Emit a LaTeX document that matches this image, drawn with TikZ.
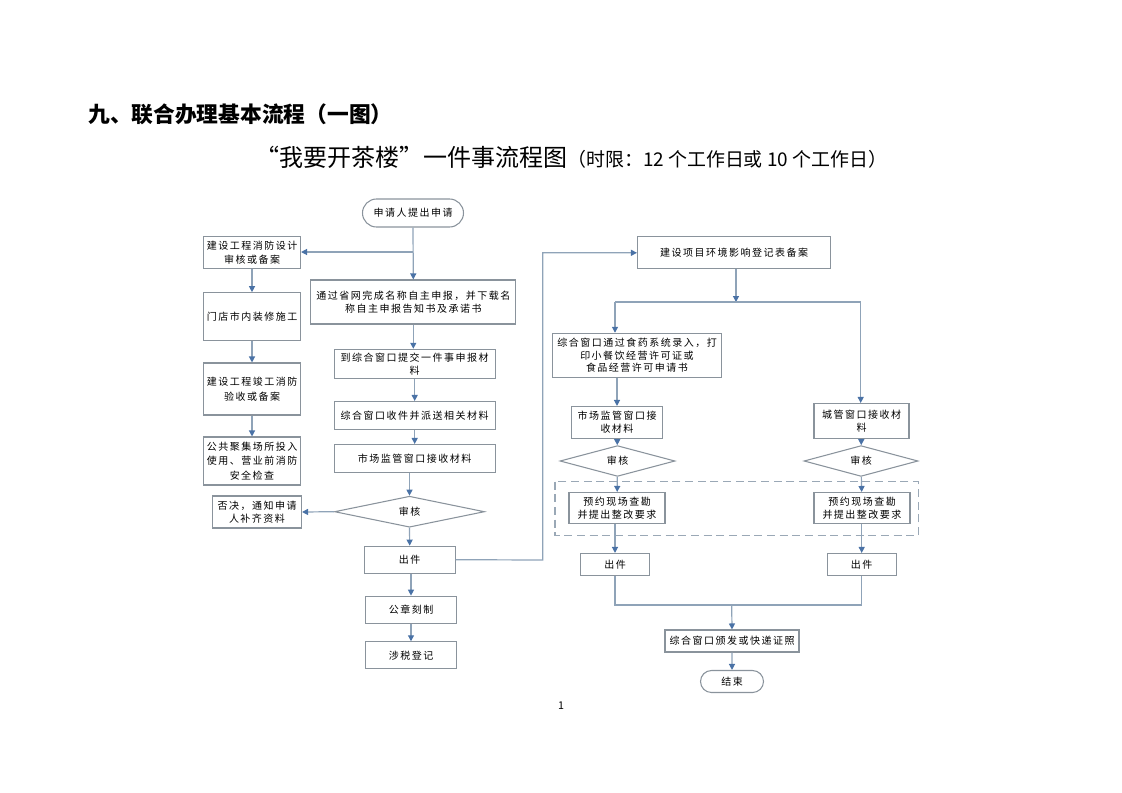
\documentclass[tikz,border=0pt]{standalone}
\usepackage{fontspec}
\setmainfont{Noto Sans CJK SC}
\newfontfamily\boxfont[LetterSpace=15]{Noto Sans CJK SC}
\usetikzlibrary{arrows.meta,shapes.geometric,shapes.misc,calc}
\definecolor{lineblue}{HTML}{8FA3B8}
\definecolor{tipblue}{HTML}{4A72A6}
\definecolor{boxgray}{HTML}{8A939C}
\definecolor{dashgray}{HTML}{9AA8B6}
\tikzset{
  bx/.style n args={2}{draw=boxgray, line width=0.8pt, rectangle, align=center, inner sep=0pt,
     minimum width=#1*0.75pt, minimum height=#2*0.75pt,
     font=\boxfont\fontsize{7.5pt}{9.6pt}\selectfont},
  fbx/.style n args={2}{bx={#1}{#2}, font=\boxfont\fontsize{7.5pt}{10.8pt}\selectfont},
  dia/.style n args={2}{draw=boxgray, line width=0.8pt, diamond, align=center, inner sep=0pt,
     minimum width=#1*0.75pt, minimum height=#2*0.75pt,
     font=\boxfont\fontsize{7.5pt}{9.6pt}\selectfont},
  term/.style n args={2}{draw=boxgray, line width=0.8pt, rounded rectangle, align=center, inner sep=0pt,
     minimum width=#1*0.75pt, minimum height=#2*0.75pt,
     font=\boxfont\fontsize{7.5pt}{9.6pt}\selectfont},
  arr/.style={draw=lineblue, line width=0.9pt, -{Triangle[length=4.5pt,width=4.5pt,color=tipblue]}},
  ln/.style={draw=lineblue, line width=0.9pt},
}
\begin{document}
\begin{tikzpicture}[x=0.75pt,y=-0.75pt]
\useasboundingbox (0,0) rectangle (1122,793);

% titles
\node[anchor=west, inner sep=0pt, font=\bfseries\fontsize{16.3pt}{19pt}\selectfont] (title) at (88,114) {九、联合办理基本流程（一图）};
\node[anchor=west, inner sep=0pt] (sub) at (255,157) {\fontsize{18pt}{21pt}\selectfont “我要开茶楼”一件事流程图{\fontsize{14.2pt}{17pt}\selectfont（时限：12 个工作日或 10 个工作日）}};

% left column (fire)
\node[term={101}{28}] (start) at (413,213) {申请人提出申请};
\node[fbx={97}{32}] (fire1) at (252,252.5) {建设工程消防设计\\审核或备案};
\node[fbx={97}{48}] (fire2) at (252,316.7) {门店市内装修施工};
\node[fbx={97}{52}] (fire3) at (252,389) {建设工程竣工消防\\验收或备案};
\node[fbx={97}{48}] (fire4) at (252,461) {公共聚集场所投入\\使用、营业前消防\\安全检查};

% middle column
\node[bx={205}{44}] (net) at (413.3,302) {通过省网完成名称自主申报，并下载名\\称自主申报告知书及承诺书};
\node[bx={161}{29}] (submit) at (414.7,363.8) {到综合窗口提交一件事申报材\\料};
\node[bx={161}{28}] (dispatch) at (414.7,415.5) {综合窗口收件并派送相关材料};
\node[bx={161}{28}] (recv) at (414.7,458.5) {市场监管窗口接收材料};
\node[dia={150}{31}] (audit) at (409.5,511.7) {审核};
\node[bx={89}{32}] (reject) at (257,512) {否决，通知申请\\人补齐资料};
\node[bx={91}{27}] (issue) at (409.7,559.7) {出件};
\node[bx={91}{27}] (seal) at (411,609.7) {公章刻制};
\node[bx={91}{27}] (tax) at (411,655.3) {涉税登记};

% right part
\node[bx={193}{32}] (env) at (734,252.8) {建设项目环境影响登记表备案};
\node[bx={169}{44}] (food) at (637,355.3) {综合窗口通过食药系统录入，打\\印小餐饮经营许可证或\\食品经营许可申请书};
\node[bx={91}{32}] (mkt) at (617,422.5) {市场监管窗口接\\收材料};
\node[bx={95}{35}] (chg) at (861.5,421) {城管窗口接收材\\料};
\node[dia={115}{22}] (aud2) at (617.5,461) {审核};
\node[dia={114}{22}] (aud3) at (861,461) {审核};
\node[bx={96}{31}] (insp2) at (617,508) {预约现场查勘\\并提出整改要求};
\node[bx={96}{31}] (insp3) at (862,508) {预约现场查勘\\并提出整改要求};
\node[bx={69}{22}] (iss2) at (615,564.5) {出件};
\node[bx={69}{22}] (iss3) at (861.7,564.5) {出件};
\node[bx={134}{22}] (cert) at (732,641) {综合窗口颁发或快递证照};
\node[term={63}{22}] (end) at (732,681.5) {结束};

\draw[dashgray, line width=0.9pt, dash pattern=on 6pt off 3.5pt] (555,481.7) rectangle (918.3,535.7);

\node[inner sep=0pt, font=\fontsize{8pt}{10pt}\selectfont] (pg) at (561,706) {1};

% coordinates
\coordinate (b1) at (413,252);
\coordinate (lx) at (542.7,560);
\coordinate (split) at (736,302);
\coordinate (sl) at (615,302);
\coordinate (sr) at (860.7,302);
\coordinate (ml) at (615,605);
\coordinate (mr) at (861.7,605);
\coordinate (merge) at (731.7,605);

% connectors
\draw[arr] (start.south) -- (net.north);
\draw[arr] (b1) -- (b1 -| fire1.east);
\draw[arr] (fire1) -- (fire2);
\draw[arr] (fire2) -- (fire3);
\draw[arr] (fire3) -- (fire4);
\draw[arr] (net.south) -- (net.south |- submit.north);
\draw[arr] (submit) -- (dispatch);
\draw[arr] (dispatch) -- (recv);
\draw[arr] (audit.north |- recv.south) -- (audit.north);
\draw[arr] (audit.west) -- (reject.east);
\draw[arr] (audit.south) -- (issue.north);
\draw[arr] (seal.north |- issue.south) -- (seal.north);
\draw[arr] (seal) -- (tax);
\draw[arr] (issue.east) -- (lx) |- (env.west);

\draw[arr] (split |- env.south) -- (split);
\draw[ln] (sl) -- (sr);
\draw[arr] (sl) -- (sl |- food.north);
\draw[arr] (sr) -- (sr |- chg.north);
\draw[arr] (mkt.north |- food.south) -- (mkt.north);
\draw[arr] (mkt) -- (aud2);
\draw[arr] (aud2) -- (insp2);
\draw[arr] (iss2.north |- insp2.south) -- (iss2.north);
\draw[arr] (chg) -- (aud3);
\draw[arr] (aud3) -- (insp3);
\draw[arr] (iss3.north |- insp3.south) -- (iss3.north);
\draw[ln] (iss2.south) -- (ml) -- (mr) -- (iss3.south);
\draw[arr] (merge) -- (cert.north);
\draw[arr] (cert) -- (end);
\end{tikzpicture}
\end{document}
